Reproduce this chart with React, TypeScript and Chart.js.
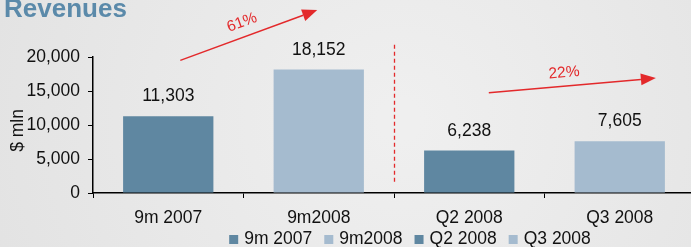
import React, { useEffect, useRef } from 'react';
import { Chart, registerables } from 'chart.js';

Chart.register(...registerables);

// ---------- data ----------
const categories = ['9m 2007', '9m2008', 'Q2 2008', 'Q3 2008'];
const revenues = [11303, 18152, 6238, 7605];
const barColors = ['#5f87a1', '#a5bbcf', '#5f87a1', '#a5bbcf'];
const yTicks = [0, 5000, 10000, 15000, 20000];
const growthLabels = ['61%', '22%'];

const TITLE = 'Revenues';
const Y_TITLE = '$ mln';

// ---------- annotations (category index, value) ----------
const arrowFrom = [[0.08, 19500], [2.13, 14750]];
const arrowTo = [[0.99, 26900], [3.24, 16900]];
const arrowTextAt = [[0.49, 25050], [2.63, 17650]];
const arrowTextAngle = [-20, -5];
const dividerIndex = 1.5;
const dividerValues = [21800, 1650];
const yTitleValue = 9200;

// ---------- style ----------
const FONT = "'Liberation Sans', Arial, sans-serif";
const RED = '#e3292b';
const TITLE_COLOR = '#5b8aaa';
const CANVAS_W = 696;
const CANVAS_H = 247;
const LEGEND_CENTER_X = 410;

const fmt = (v: number) => v.toLocaleString('en-US');

const bgPlugin = {
  id: 'bg',
  beforeDraw(chart: any) {
    const { ctx, width, height } = chart;
    ctx.save();
    const g = ctx.createRadialGradient(400, 120, 20, 400, 120, 450);
    g.addColorStop(0, '#efefef');
    g.addColorStop(1, '#e2e2e2');
    ctx.fillStyle = g;
    ctx.fillRect(0, 0, width, height);
    ctx.restore();
  },
};

const decorPlugin = {
  id: 'decor',
  afterDatasetsDraw(chart: any) {
    const { ctx } = chart;
    const meta = chart.getDatasetMeta(0);
    ctx.save();
    ctx.font = `17.5px ${FONT}`;
    ctx.fillStyle = '#111';
    ctx.textAlign = 'center';
    ctx.textBaseline = 'alphabetic';
    meta.data.forEach((bar: any, i: number) => {
      ctx.fillText(fmt(revenues[i]), bar.x, bar.y - 15);
    });
    ctx.restore();
  },
  afterDraw(chart: any) {
    const { ctx } = chart;
    const xs = chart.scales.x;
    const ys = chart.scales.y;
    const px = (p: number[]) => [xs.getPixelForValue(p[0]), ys.getPixelForValue(p[1])];

    ctx.save();
    // title
    ctx.font = `bold 26px ${FONT}`;
    ctx.fillStyle = TITLE_COLOR;
    ctx.textAlign = 'left';
    ctx.textBaseline = 'alphabetic';
    ctx.fillText(TITLE, 4, 17);

    // y axis title
    ctx.save();
    ctx.translate(18, ys.getPixelForValue(yTitleValue));
    ctx.rotate(-Math.PI / 2);
    ctx.font = `17.5px ${FONT}`;
    ctx.fillStyle = '#111';
    ctx.textAlign = 'center';
    ctx.textBaseline = 'middle';
    ctx.fillText(Y_TITLE, 0, 0);
    ctx.restore();

    // divider
    const dx = Math.round(xs.getPixelForValue(dividerIndex)) + 0.5;
    ctx.strokeStyle = RED;
    ctx.lineWidth = 1.3;
    ctx.setLineDash([4, 3]);
    ctx.beginPath();
    ctx.moveTo(dx, ys.getPixelForValue(dividerValues[0]));
    ctx.lineTo(dx, ys.getPixelForValue(dividerValues[1]));
    ctx.stroke();
    ctx.setLineDash([]);

    // arrows
    growthLabels.forEach((label, i) => {
      const [x1, y1] = px(arrowFrom[i]);
      const [x2, y2] = px(arrowTo[i]);
      const ang = Math.atan2(y2 - y1, x2 - x1);
      const headLen = 15;
      const headW = 6;
      const bx = x2 - headLen * Math.cos(ang);
      const by = y2 - headLen * Math.sin(ang);
      ctx.strokeStyle = RED;
      ctx.fillStyle = RED;
      ctx.lineWidth = 1.5;
      ctx.beginPath();
      ctx.moveTo(x1, y1);
      ctx.lineTo(bx, by);
      ctx.stroke();
      ctx.beginPath();
      ctx.moveTo(x2, y2);
      ctx.lineTo(bx + headW * Math.sin(ang), by - headW * Math.cos(ang));
      ctx.lineTo(bx - headW * Math.sin(ang), by + headW * Math.cos(ang));
      ctx.closePath();
      ctx.fill();

      const [tx, ty] = px(arrowTextAt[i]);
      ctx.save();
      ctx.translate(tx, ty);
      ctx.rotate((arrowTextAngle[i] * Math.PI) / 180);
      ctx.font = `15.5px ${FONT}`;
      ctx.textAlign = 'center';
      ctx.textBaseline = 'middle';
      ctx.fillText(label, 0, 0);
      ctx.restore();
    });

    // legend
    ctx.font = `17.5px ${FONT}`;
    ctx.textAlign = 'left';
    ctx.textBaseline = 'alphabetic';
    const box = 9;
    const gapBox = 6;
    const gapItem = 12;
    const widths = categories.map((c) => ctx.measureText(c).width);
    const total =
      widths.reduce((a, w) => a + box + gapBox + w, 0) + gapItem * (categories.length - 1);
    let lx = LEGEND_CENTER_X - total / 2;
    const baseY = 244;
    categories.forEach((c, i) => {
      ctx.fillStyle = barColors[i];
      ctx.fillRect(lx, baseY - box, box, box);
      lx += box + gapBox;
      ctx.fillStyle = '#111';
      ctx.fillText(c, lx, baseY);
      lx += widths[i] + gapItem;
    });
    ctx.restore();
  },
};

export default function App() {
  const ref = useRef<HTMLCanvasElement | null>(null);

  useEffect(() => {
    if (!ref.current) return;
    const font = { family: FONT, size: 17.5 };
    const chart = new Chart(ref.current, {
      type: 'bar',
      data: {
        labels: categories,
        datasets: [
          {
            data: revenues,
            backgroundColor: barColors,
            borderWidth: 0,
            barPercentage: 0.6,
            categoryPercentage: 1,
          },
        ],
      },
      options: {
        responsive: false,
        animation: false,
        devicePixelRatio: 1,
        layout: { padding: { top: 57, right: 1, left: 0, bottom: 0 } },
        plugins: {
          legend: { display: false },
          tooltip: { enabled: false },
          title: { display: false },
        },
        scales: {
          x: {
            grid: {
              display: true,
              drawOnChartArea: false,
              drawTicks: true,
              tickLength: 5,
              color: '#000',
              lineWidth: 1,
            },
            border: { display: true, color: '#000', width: 1.5 },
            ticks: { color: '#111', font, padding: 10 },
            afterFit: (s: any) => {
              s.height = 54;
            },
          },
          y: {
            min: 0,
            max: 20000,
            afterBuildTicks: (s: any) => {
              s.ticks = yTicks.map((v) => ({ value: v }));
            },
            ticks: { color: '#111', font, padding: 8, callback: (v: any) => fmt(Number(v)) },
            grid: {
              drawOnChartArea: false,
              drawTicks: true,
              tickLength: 5,
              color: '#000',
              lineWidth: 1,
            },
            border: { display: true, color: '#000', width: 1.5 },
            afterFit: (s: any) => {
              s.width = 93;
            },
          },
        },
      },
      plugins: [bgPlugin, decorPlugin],
    });
    return () => chart.destroy();
  }, []);

  return (
    <div
      style={{
        position: 'fixed',
        left: 0,
        top: 0,
        width: 691,
        height: CANVAS_H,
        overflow: 'hidden',
      }}
    >
      <canvas
        ref={ref}
        width={CANVAS_W}
        height={CANVAS_H}
        style={{ display: 'block', width: CANVAS_W, height: CANVAS_H }}
      />
    </div>
  );
}
